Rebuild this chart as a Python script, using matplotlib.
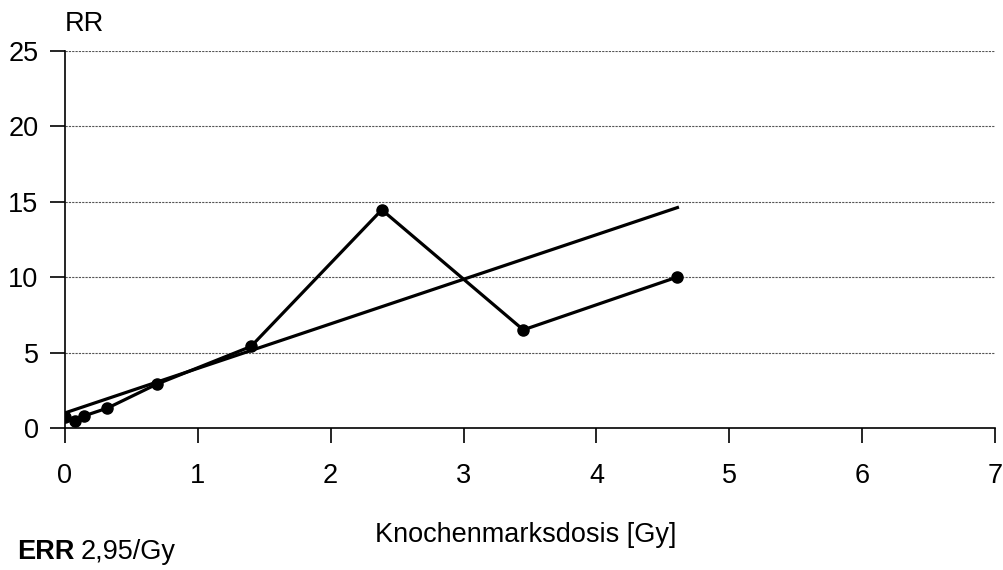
import matplotlib.pyplot as plt
import numpy as np

plt.rcParams['font.family'] = ['Liberation Sans', 'DejaVu Sans']

# observed RR by bone marrow dose
dose = [0.0, 0.075, 0.14, 0.32, 0.69, 1.40, 2.385, 3.45, 4.61]
rr = [0.73, 0.46, 0.79, 1.32, 2.9, 5.4, 14.45, 6.5, 10.0]

# linear fit RR = 1 + ERR * dose
err = 2.95
fit_x = [0.0, 4.61]
fit_y = [1 + err * d for d in fit_x]

fig = plt.figure(figsize=(10.04, 5.70), dpi=100)
ax = fig.add_axes([0.0647, 0.2491, 0.9263, 0.6623])

for y in [5, 10, 15, 20, 25]:
    ax.axhline(y, color='#555555', lw=0.8, ls=(0, (2, 1)), zorder=1)

ax.plot(fit_x, fit_y, color='black', lw=2.3, zorder=3)
ax.plot(dose, rr, color='black', lw=2.3, marker='o', ms=8, zorder=4)

ax.set_xlim(0, 7)
ax.set_ylim(0, 25)
ax.set_xticks(range(0, 8))
ax.set_yticks(range(0, 26, 5))
ax.spines['top'].set_visible(False)
ax.spines['right'].set_visible(False)
ax.spines['left'].set_linewidth(1.2)
ax.spines['bottom'].set_linewidth(1.2)
ax.tick_params(direction='out', length=11, width=1.2, labelsize=19.5)
ax.tick_params(axis='x', pad=14)
ax.tick_params(axis='y', pad=8)

ax.text(0, 25.9, 'RR', fontsize=19.5, ha='left', va='bottom')
fig.text(0.524, 1 - 535 / 570, 'Knochenmarksdosis [Gy]', fontsize=19.5, ha='center', va='center')
fig.text(0.017, 1 - 552 / 570, 'ERR', fontsize=19.5, ha='left', va='center', fontweight='bold')
fig.text(0.080, 1 - 552 / 570, '2,95/Gy', fontsize=19.5, ha='left', va='center')

fig.savefig('out.png', dpi=100)
